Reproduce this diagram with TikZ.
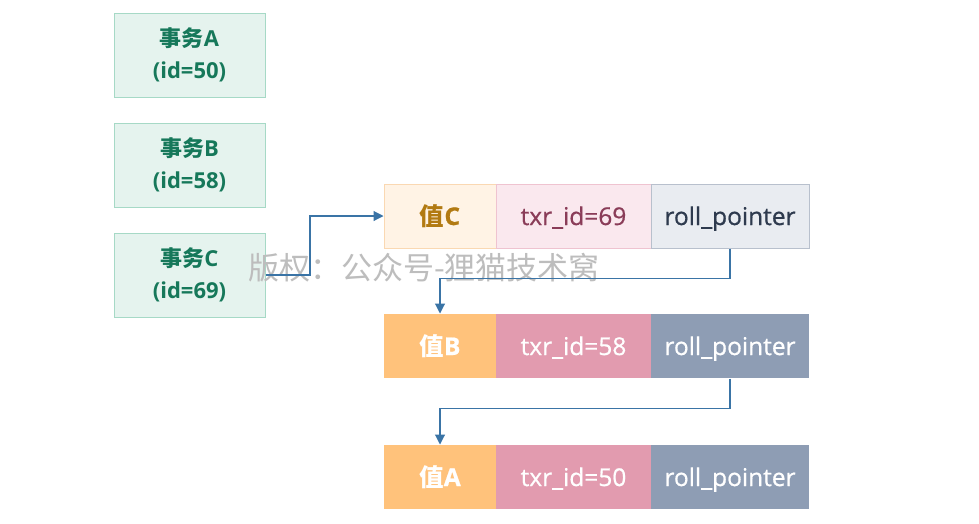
\documentclass[tikz,border=0pt]{standalone}
\usepackage{fontspec}
\setmainfont{Open Sans}
\newfontfamily\medfont{Open Sans}[FakeBold=0.7]
\newfontfamily\cjk{Noto Sans CJK SC}
\usetikzlibrary{arrows.meta}
\definecolor{tfill}{HTML}{E5F3EE}
\definecolor{tdraw}{HTML}{A6D9C6}
\definecolor{ttext}{HTML}{16785A}
\definecolor{lvfill}{HTML}{FFF3E5}
\definecolor{lvdraw}{HTML}{FAD8B2}
\definecolor{lvtext}{HTML}{B27A12}
\definecolor{ltfill}{HTML}{FAE8EE}
\definecolor{ltdraw}{HTML}{EFC3D0}
\definecolor{lttext}{HTML}{8A3C58}
\definecolor{lpfill}{HTML}{E9ECF1}
\definecolor{lpdraw}{HTML}{B8C0CD}
\definecolor{lptext}{HTML}{2E3A4E}
\definecolor{vfill}{HTML}{FFC27B}
\definecolor{xfill}{HTML}{E29BAF}
\definecolor{pfill}{HTML}{8E9DB4}
\definecolor{arrowc}{HTML}{3A74A6}
\definecolor{wmark}{HTML}{BDBDBD}
\begin{document}
\begin{tikzpicture}[x=1pt,y=-1pt,
  txbox/.style={draw=tdraw,fill=tfill,line width=1pt,minimum width=151pt,minimum height=84pt,
    align=center,text=ttext,font=\bfseries\fontsize{22}{32}\selectfont,inner sep=0pt},
  cell/.style={line width=1pt,minimum height=64pt,inner sep=0pt,text height=20pt,text depth=2pt,
    font=\medfont\fontsize{24.5}{28}\selectfont},
  vcell/.style={cell,minimum width=112pt},
  xcell/.style={cell,minimum width=155pt},
  pcell/.style={cell,minimum width=158pt},
  lightv/.style={vcell,draw=lvdraw,fill=lvfill,text=lvtext},
  lightx/.style={xcell,draw=ltdraw,fill=ltfill,text=lttext},
  lightp/.style={pcell,draw=lpdraw,fill=lpfill,text=lptext},
  darkv/.style={vcell,fill=vfill,text=white},
  darkx/.style={xcell,fill=xfill,text=white},
  darkp/.style={pcell,fill=pfill,text=white},
  conn/.style={draw=arrowc,line width=1.1pt,-{Triangle[length=10pt,width=10pt]}}
]
\useasboundingbox (0,0) rectangle (979,523);
\fill[white] (0,0) rectangle (979,523);

\node[txbox] (tA) at (189.5,55) {{\cjk\bfseries 事务}A\\(id=50)};
\node[txbox] (tB) at (189.5,165) {{\cjk\bfseries 事务}B\\(id=58)};
\node[txbox] (tC) at (189.5,275) {{\cjk\bfseries 事务}C\\(id=69)};

\node[text=wmark, font=\cjk\fontsize{31}{31}\selectfont] (wm) at (424,268) {版权：公众号-狸猫技术窝};

\node[lightv] (vC) at (440,216) {{\cjk\bfseries 值}\textbf{C}};
\node[lightx] (xC) at (573.5,216) {txr\_id=69};
\node[lightp] (pC) at (730,216) {roll\_pointer};

\node[darkv] (vB) at (440,346) {{\cjk\bfseries 值}\textbf{B}};
\node[darkx] (xB) at (573.5,346) {txr\_id=58};
\node[darkp] (pB) at (730,346) {roll\_pointer};

\node[darkv] (vA) at (440,477) {{\cjk\bfseries 值}\textbf{A}};
\node[darkx] (xA) at (573.5,477) {txr\_id=50};
\node[darkp] (pA) at (730,477) {roll\_pointer};

\coordinate (k1) at (310,275);
\draw[conn] (tC.east) -- (k1) |- (vC.west);
\draw[conn] (pC.south) -- ++(0,30) -| (vB.north);
\draw[conn] (pB.south) -- ++(0,30) -| (vA.north);
\end{tikzpicture}
\end{document}
